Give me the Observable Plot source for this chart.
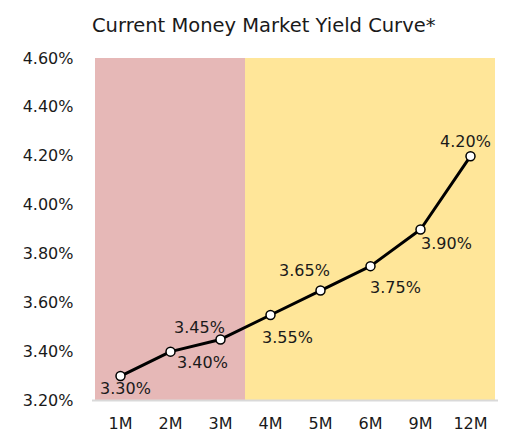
<!DOCTYPE html>
<html>
<head>
<meta charset="utf-8">
<script src="https://cdn.jsdelivr.net/npm/d3@7"></script>
<script src="https://cdn.jsdelivr.net/npm/@observablehq/plot@0.6"></script>
<style>
  html, body { margin: 0; padding: 0; background: #fff; }
  #wrap { position: relative; width: 505px; height: 433px; font-family: "DejaVu Sans", sans-serif; }
  #title { position: absolute; left: 92px; top: 16px; font-size: 19.5px; line-height: 19px; color: #1a1a1a; white-space: nowrap; }
  #chart { position: absolute; left: 0; top: 48px; }
</style>
</head>
<body>
<div id="wrap">
  <div id="title">Current Money Market Yield Curve*</div>
  <div id="chart"></div>
</div>
<script>
const titleText = "Current Money Market Yield Curve*";
const tenors = ["1M", "2M", "3M", "4M", "5M", "6M", "9M", "12M"];
const yields = [3.30, 3.40, 3.45, 3.55, 3.65, 3.75, 3.90, 4.20];
const zones = ["short", "short", "short", "long", "long", "long", "long", "long"];
const yTicks = [3.2, 3.4, 3.6, 3.8, 4.0, 4.2, 4.4, 4.6];
const labelPlacement = ["below", "belowRight", "aboveLeft", "belowRight", "aboveLeft", "belowRight", "belowRight", "above"];

const placementOffsets = {
  below: [5, 13],
  belowRight: [28, 14],
  aboveLeft: [-19, -15],
  above: [-5, -14]
};
const fineTune = {"2M": [32, 11], "3M": [-21, -12], "4M": [17, 23], "5M": [-16, -20], "6M": [25, 22], "9M": [26, 14]};

const data = tenors.map((t, i) => ({tenor: t, yield: yields[i], zone: zones[i], place: labelPlacement[i]}));
const off = d => fineTune[d.tenor] || placementOffsets[d.place];

const fmt = v => v.toFixed(2) + "%";

const labelMarks = data.map(d => Plot.text([d], {
  x: "tenor", y: "yield", text: r => fmt(r.yield),
  dx: off(d)[0], dy: off(d)[1],
  fontSize: 16, fill: "#1a1a1a", fontFamily: "DejaVu Sans"
}));

const chart = Plot.plot({
  width: 505,
  height: 385,
  marginLeft: 92,
  marginRight: 7,
  marginTop: 10,
  marginBottom: 33,
  style: {fontFamily: "DejaVu Sans", fontSize: "16px", color: "#1a1a1a", background: "transparent"},
  x: {type: "band", domain: tenors, padding: 0, label: null, tickSize: 0, tickPadding: 17},
  y: {domain: [3.2, 4.6], ticks: yTicks, tickFormat: fmt, label: null, tickSize: 0, tickPadding: 19},
  color: {domain: ["short", "long"], range: ["#E6B8B7", "#FFE699"]},
  marks: [
    Plot.barY(data, {x: "tenor", y1: 3.2, y2: 4.6, fill: "zone", inset: 0}),
    Plot.ruleY([3.2], {stroke: "#d9d9d9", strokeWidth: 2}),
    Plot.line(data, {x: "tenor", y: "yield", stroke: "#000", strokeWidth: 3}),
    Plot.dot(data, {x: "tenor", y: "yield", r: 4.5, fill: "#fff", stroke: "#000", strokeWidth: 1.5}),
    ...labelMarks
  ]
});
document.getElementById("chart").appendChild(chart);
</script>
</body>
</html>
